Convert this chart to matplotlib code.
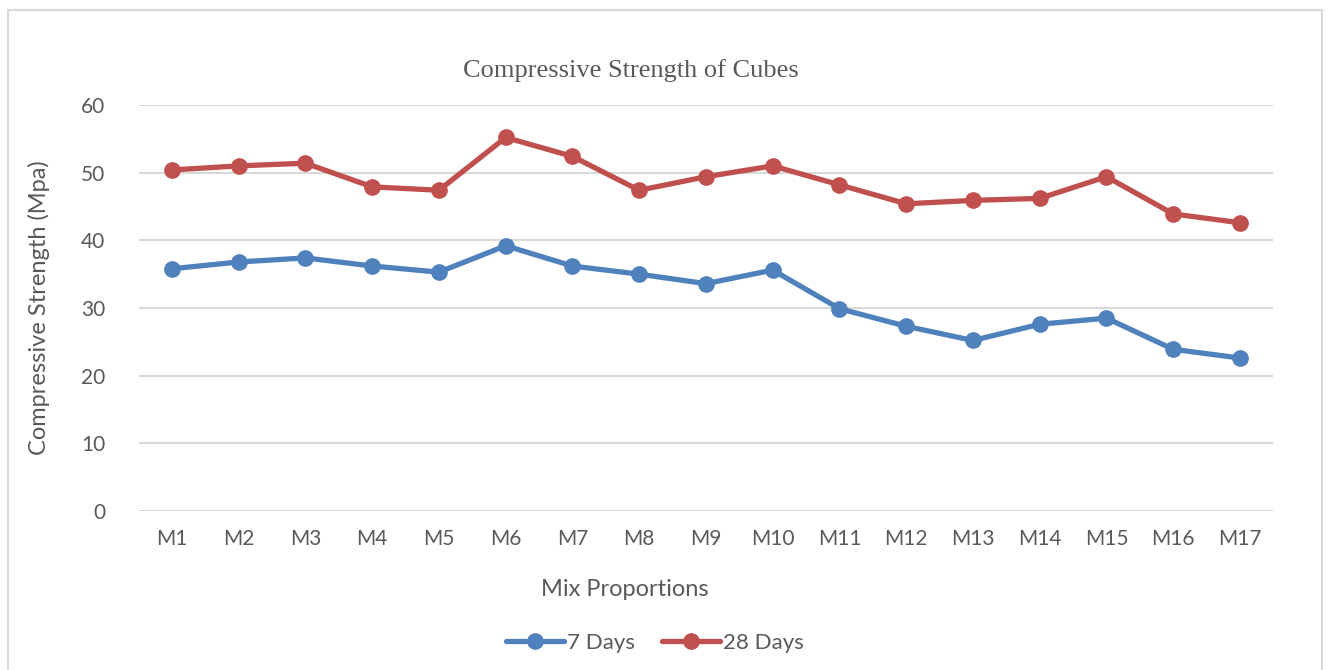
import matplotlib.pyplot as plt
from matplotlib.patches import Rectangle

# Data
mixes = ['M1', 'M2', 'M3', 'M4', 'M5', 'M6', 'M7', 'M8', 'M9', 'M10',
         'M11', 'M12', 'M13', 'M14', 'M15', 'M16', 'M17']
days_7 = [35.8, 36.8, 37.4, 36.2, 35.3, 39.2, 36.2, 35.0, 33.6, 35.6,
          29.9, 27.3, 25.2, 27.6, 28.5, 23.9, 22.6]
days_28 = [50.4, 51.0, 51.4, 47.9, 47.4, 55.2, 52.4, 47.4, 49.4, 51.0,
           48.2, 45.4, 45.9, 46.2, 49.4, 43.9, 42.6]

blue = '#4F81BD'
red = '#C0504D'
text_gray = '#595959'
grid_gray = '#D9D9D9'

plt.rcParams['font.family'] = ['Lato', 'DejaVu Sans']

fig = plt.figure(figsize=(13.3, 6.7), dpi=100)
ax = fig.add_axes([0.1042, 0.2373, 0.8532, 0.606])

x = range(len(mixes))
ax.plot(x, days_7, color=blue, lw=3.8, marker='o', ms=11, label='7 Days',
        solid_capstyle='round', zorder=3)
ax.plot(x, days_28, color=red, lw=3.8, marker='o', ms=11, label='28 Days',
        solid_capstyle='round', zorder=3)

ax.set_xlim(-0.5, len(mixes) - 0.5)
ax.set_ylim(0, 60)
ax.set_yticks(range(0, 61, 10))
ax.set_xticks(list(x))
ax.set_xticklabels(mixes)
ax.yaxis.grid(True, color=grid_gray, lw=1.5)
ax.set_axisbelow(True)
for s in ax.spines.values():
    s.set_visible(False)
ax.tick_params(length=0, labelsize=15, colors=text_gray, pad=13)
ax.tick_params(axis='y', pad=24)

ax.set_ylabel('Compressive Strength (Mpa)', fontsize=17, color=text_gray, labelpad=22)
fig.text(625 / 1330, 1 - 590 / 670, 'Mix Proportions', fontsize=17, color=text_gray,
         ha='center', va='center')
fig.text(631 / 1330, 1 - 71 / 670, 'Compressive Strength of Cubes', fontsize=19,
         color=text_gray, family='Liberation Serif', ha='center', va='center')

fig.legend(loc='center', bbox_to_anchor=(655 / 1330, 1 - 643 / 670), ncol=2, frameon=False,
           fontsize=16, labelcolor=text_gray, handlelength=2.6, columnspacing=1.2,
           handletextpad=0.15)

# outer chart border
fig.patches.append(Rectangle((0.006, -0.01), 0.988, 0.995, transform=fig.transFigure,
                             fill=False, edgecolor=grid_gray, lw=1.5))

fig.savefig('out.png', dpi=100)
